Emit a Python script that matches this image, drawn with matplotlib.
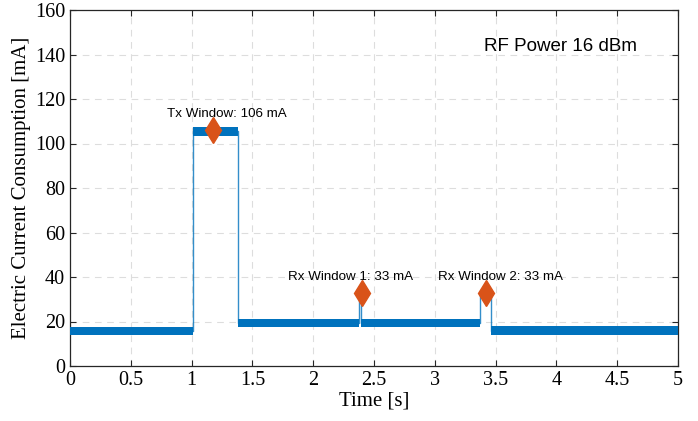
import numpy as np
import matplotlib.pyplot as plt

# segments of the measured current trace (start/end in s, mean level and noise spread in mA)
seg_start = [0.0, 1.01, 1.38, 2.378, 2.395, 3.37, 3.46]
seg_end = [1.01, 1.38, 2.378, 2.395, 3.37, 3.46, 5.0]
seg_level = [15.8, 105.4, 19.3, 33.0, 19.3, 33.5, 15.9]
seg_spread = [1.9, 2.2, 1.8, 0.4, 1.8, 0.7, 1.9]

# annotated peaks
peak_t = [1.18, 2.40, 3.42]
peak_val = [106, 33, 33]
peak_labels = ["Tx Window: 106 mA", "Rx Window 1: 33 mA", "Rx Window 2: 33 mA"]
label_x = [1.29, 2.31, 3.54]
label_y = [110.5, 37.5, 37.5]

blue = "#0072BD"
orange = "#D95319"

fig = plt.figure(figsize=(6.98, 4.21), dpi=100)
ax = fig.add_axes([70 / 698, 55 / 421, 608 / 698, 356 / 421])

# step outline of the trace
t_line = []
v_line = []
for s, e, v in zip(seg_start, seg_end, seg_level):
    t_line += [s, e]
    v_line += [v, v]
ax.plot(t_line, v_line, color=blue, lw=1.0, alpha=0.8, zorder=3)

# noise band per segment
for s, e, v, w in zip(seg_start, seg_end, seg_level, seg_spread):
    ax.fill_between([s, e], [v - w, v - w], [v + w, v + w], color=blue, lw=0, zorder=3)

ax.plot(peak_t, peak_val, "d", color=orange, markersize=13, zorder=5)
for x, y, s in zip(label_x, label_y, peak_labels):
    ax.text(x, y, s, ha="center", va="bottom", fontsize=9.6, family="Liberation Sans")

ax.text(4.03, 143.5, "RF Power 16 dBm", ha="center", va="center", fontsize=13.5, family="Liberation Sans")

ax.set_xlim(0, 5)
ax.set_ylim(0, 160)
ax.set_xticks(np.arange(0, 5.01, 0.5))
ax.set_xticklabels(["0", "0.5", "1", "1.5", "2", "2.5", "3", "3.5", "4", "4.5", "5"])
ax.set_yticks(np.arange(0, 161, 20))
ax.tick_params(direction="in", top=True, right=True, labelsize=14.5, length=4, color="#262626")
for lab in ax.get_xticklabels() + ax.get_yticklabels():
    lab.set_family("Liberation Serif")
ax.grid(True, ls=(0, (6, 5)), color="#dddddd", lw=0.8)
ax.set_axisbelow(True)
for sp in ax.spines.values():
    sp.set_color("#262626")
    sp.set_linewidth(0.9)

ax.set_xlabel("Time [s]", family="Liberation Serif", fontsize=15, labelpad=1)
ax.set_ylabel("Electric Current Consumption [mA]", family="Liberation Serif", fontsize=15, labelpad=3)

fig.savefig("out.png", dpi=100)
